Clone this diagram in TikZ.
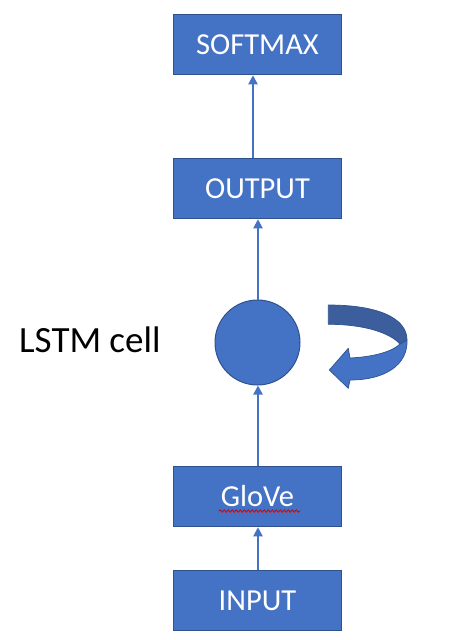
\documentclass[tikz,border=0pt]{standalone}
\usepackage{fontspec}
\setmainfont{Carlito}
\usetikzlibrary{arrows.meta,decorations.pathmorphing}
\definecolor{pblue}{HTML}{4472C4}
\definecolor{pborder}{HTML}{2F528F}
\definecolor{pdark}{HTML}{3C5E9C}
\tikzset{
  layerbox/.style={draw=pborder, line width=1.5pt, fill=pblue, minimum width=168pt, minimum height=60pt, inner sep=0pt, text=white, font=\fontsize{30.5}{33}\selectfont},
  cellnode/.style={circle, draw=pborder, line width=1pt, fill=pblue, minimum size=85pt, inner sep=0pt},
  flow/.style={draw=pblue, line width=1.9pt, -{Triangle[width=9pt,length=9pt]}},
  bandshape/.style={draw=pborder, line width=0.7pt, line join=round},
}
\begin{document}
\begin{tikzpicture}[x=1pt,y=-1pt]
\useasboundingbox (0,0) rectangle (448,640);
\node[layerbox] (softmax) at (257.5,44.5) {SOFTMAX};
\node[layerbox] (output) at (257.5,188.5) {OUTPUT};
\node[cellnode] (cell) at (257.5,342.5) {};
\node[layerbox] (glove) at (257.5,496.5) {GloVe};
\node[layerbox] (input) at (257.5,600.5) {INPUT};
\node[anchor=base west, font=\fontsize{37}{40}\selectfont, inner sep=0pt] (label) at (19,352) {LSTM cell};
\draw[flow] ([xshift=-4.5pt]output.north) -- ([xshift=-4.5pt]softmax.south);
\draw[flow] ([xshift=0.5pt]cell.north) -- ([xshift=0.5pt]output.south);
\draw[flow] ([xshift=0.5pt]glove.north) -- ([xshift=0.5pt]cell.south);
\draw[flow] ([xshift=0.5pt]input.north) -- ([xshift=0.5pt]glove.south);
% spell-check squiggle
\coordinate (sqa) at (219,511);
\coordinate (sqb) at (300,511);
\draw[red!85!black, line width=0.8pt, decorate, decoration={snake, segment length=4pt, amplitude=1.2pt}] (sqa) -- (sqb);
% curved arrow
\fill[pblue, bandshape] (400,344) -- (407,340) .. controls (408,365) and (385,380) .. (350,380) -- (348.3,388.3) -- (329.3,370) -- (348.3,348.3) -- (350,358) .. controls (372,357) and (392,352) .. (400,344) -- cycle;
\fill[pdark, bandshape] (328.3,305) .. controls (378,305) and (407,318) .. (407,340) -- (400,344) .. controls (390,333) and (365,324.3) .. (328.3,324.3) -- cycle;
\end{tikzpicture}
\end{document}
